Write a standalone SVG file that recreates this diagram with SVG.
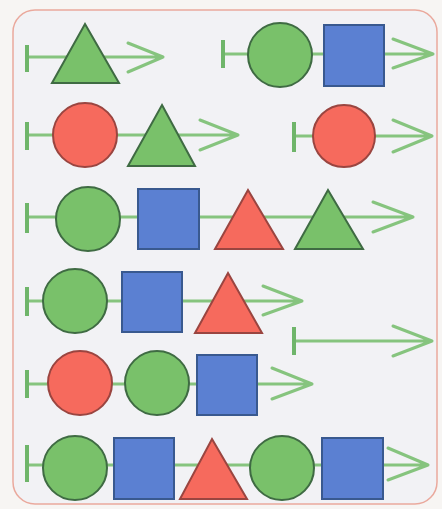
<svg xmlns="http://www.w3.org/2000/svg" width="442" height="509" viewBox="0 0 442 509">
<defs>
<style>
.ln{stroke:#86c47e;stroke-width:3;fill:none;stroke-linecap:round;stroke-linejoin:round}
.tk{stroke:#6fb56a;stroke-width:4;fill:none}
.g{fill:#79c16a;stroke:#3f6b43;stroke-width:2}
.r{fill:#f66a5d;stroke:#9a4540;stroke-width:2}
.b{fill:#5b80d2;stroke:#39598f;stroke-width:2}
</style>
</defs>
<rect x="0" y="0" width="442" height="509" fill="#f7f5f3"/>
<rect x="13" y="10" width="424" height="494" rx="22" ry="22" fill="#f2f2f5" stroke="#eaa99d" stroke-width="1.5"/>
<g id="connectors">
<!-- row 1 left -->
<path class="ln" d="M27 57H163M128 43L163 57L128 72"/>
<path class="tk" d="M27 45V72"/>
<!-- row 1 right -->
<path class="ln" d="M223 54H433M393 39L433 54L393 68"/>
<path class="tk" d="M223 40V68"/>
<!-- row 2 left -->
<path class="ln" d="M27 135H238M200 120L238 135L200 150"/>
<path class="tk" d="M27 122V150"/>
<!-- row 2 right -->
<path class="ln" d="M294 136H432M393 120L432 136L393 152"/>
<path class="tk" d="M294 122V152"/>
<!-- row 3 -->
<path class="ln" d="M27 217H413M373 202L413 217L373 232"/>
<path class="tk" d="M27 203V233"/>
<!-- row 4 -->
<path class="ln" d="M27 301H302M263 286L302 301L263 315"/>
<path class="tk" d="M27 287V316"/>
<!-- empty ray -->
<path class="ln" d="M294 341H432M393 326L432 341L393 356"/>
<path class="tk" d="M294 327V355"/>
<!-- row 5 -->
<path class="ln" d="M27 384H312M272 368L312 384L272 399"/>
<path class="tk" d="M27 370V398"/>
<!-- row 6 -->
<path class="ln" d="M27 465H428M388 448L428 465L388 480"/>
<path class="tk" d="M27 445V482"/>
</g>
<g id="r1-tri"><polygon class="g" points="85,24 119,83 52,83"/></g>
<g id="r1-circle"><circle class="g" cx="280" cy="55" r="32"/></g>
<g id="r1-square"><rect class="b" x="324" y="25" width="60" height="61"/></g>
<g id="r2-circle"><circle class="r" cx="85" cy="135" r="32"/></g>
<g id="r2-tri"><polygon class="g" points="162,105 195,166 128,166"/></g>
<g id="r2-circle2"><circle class="r" cx="344" cy="136" r="31"/></g>
<g id="r3-circle"><circle class="g" cx="88" cy="219" r="32"/></g>
<g id="r3-square"><rect class="b" x="138" y="189" width="61" height="60"/></g>
<g id="r3-tri1"><polygon class="r" points="248,190 283,249 215,249"/></g>
<g id="r3-tri2"><polygon class="g" points="328,190 363,249 295,249"/></g>
<g id="r4-circle"><circle class="g" cx="75" cy="301" r="32"/></g>
<g id="r4-square"><rect class="b" x="122" y="272" width="60" height="60"/></g>
<g id="r4-tri"><polygon class="r" points="228,273 262,333 195,333"/></g>
<g id="r5-circle1"><circle class="r" cx="80" cy="383" r="32"/></g>
<g id="r5-circle2"><circle class="g" cx="157" cy="383" r="32"/></g>
<g id="r5-square"><rect class="b" x="197" y="355" width="60" height="60"/></g>
<g id="r6-circle1"><circle class="g" cx="75" cy="468" r="32"/></g>
<g id="r6-square1"><rect class="b" x="114" y="438" width="60" height="61"/></g>
<g id="r6-tri"><polygon class="r" points="212,439 247,499 180,499"/></g>
<g id="r6-circle2"><circle class="g" cx="282" cy="468" r="32"/></g>
<g id="r6-square2"><rect class="b" x="322" y="438" width="61" height="61"/></g>
</svg>
